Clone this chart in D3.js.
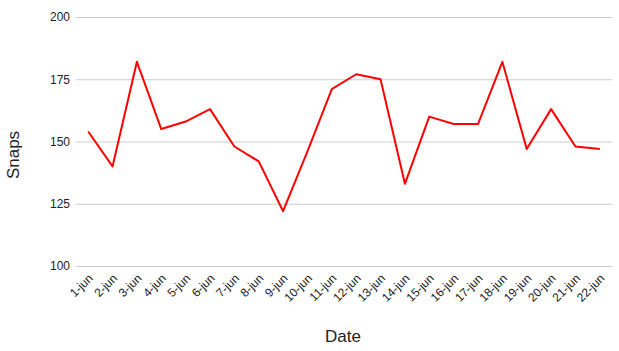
<!DOCTYPE html>
<html>
<head>
<meta charset="utf-8">
<script src="https://cdnjs.cloudflare.com/ajax/libs/d3/7.8.5/d3.min.js"></script>
<style>
  body { margin: 0; background: #fff; }
  text { font-family: "Liberation Sans", Arial, sans-serif; fill: #222; }
</style>
</head>
<body>
<div class="chart"></div>
<script>
var width = 619;
var height = 351;
var margin = {top: 17, right: 7, bottom: 85, left: 76};

var dates = ['1-jun','2-jun','3-jun','4-jun','5-jun','6-jun','7-jun','8-jun','9-jun','10-jun','11-jun',
  '12-jun','13-jun','14-jun','15-jun','16-jun','17-jun','18-jun','19-jun','20-jun','21-jun','22-jun'];
var snaps = [154, 140, 182, 155, 158, 163, 148, 142, 122, 146, 171,
  177, 175, 133, 160, 157, 157, 182, 147, 163, 148, 147];
var yTicks = [100, 125, 150, 175, 200];

var data = dates.map(function(d, i){ return {date: d, snaps: snaps[i]} });

var svg = d3.select('div.chart').append('svg')
    .attr('width', width)
    .attr('height', height)

var x_scale = d3.scalePoint()
    .domain(dates)
    .range([margin.left, width - margin.right])
    .padding(0.5)
var y_scale = d3.scaleLinear()
    .domain([100, 200])
    .range([height - margin.bottom, margin.top])

// gridlines
svg.append('g')
    .attr('class', 'grid')
    .selectAll('line')
    .data(yTicks)
    .enter()
    .append('line')
    .attr('x1', margin.left)
    .attr('x2', width - margin.right)
    .attr('y1', function(d){ return y_scale(d) + 0.5 })
    .attr('y2', function(d){ return y_scale(d) + 0.5 })
    .attr('stroke', '#cccccc')
    .attr('stroke-width', 1)

// y axis labels
var y_axis = d3.axisLeft(y_scale).tickValues(yTicks).tickSize(0).tickPadding(6)
svg.append('g')
    .attr('class', 'y-axis')
    .attr('transform', 'translate(' + margin.left + ',0)')
    .call(y_axis)
    .call(function(g){ g.select('.domain').remove() })
    .selectAll('text')
    .style('font-size', '12px')
    .style('font-family', '"Liberation Sans", Arial, sans-serif')
    .attr('fill', '#222')

// x axis labels
var x_axis = d3.axisBottom(x_scale).tickSize(0)
svg.append('g')
    .attr('class', 'x-axis')
    .attr('transform', 'translate(0,' + (height - margin.bottom) + ')')
    .call(x_axis)
    .call(function(g){ g.select('.domain').remove() })
    .selectAll('text')
    .style('font-size', '12px')
    .style('font-family', '"Liberation Sans", Arial, sans-serif')
    .attr('fill', '#222')
    .style('text-anchor', 'end')
    .attr('dy', null)
    .attr('y', 0)
    .attr('transform', 'translate(5,13) rotate(-45)')

// line
var line = d3.line()
    .x(function(d){ return x_scale(d.date) })
    .y(function(d){ return y_scale(d.snaps) })

svg.append('path')
    .datum(data)
    .attr('d', line)
    .attr('fill', 'none')
    .attr('stroke', '#ff0000')
    .attr('stroke-width', 2)
    .attr('stroke-linejoin', 'round')

// axis titles
svg.append('text')
    .attr('transform', 'rotate(-90)')
    .attr('x', -155)
    .attr('y', 19)
    .style('text-anchor', 'middle')
    .style('font-size', '17px')
    .text('Snaps')

svg.append('text')
    .attr('x', 343)
    .attr('y', 342)
    .style('text-anchor', 'middle')
    .style('font-size', '17px')
    .text('Date')
</script>
</body>
</html>
